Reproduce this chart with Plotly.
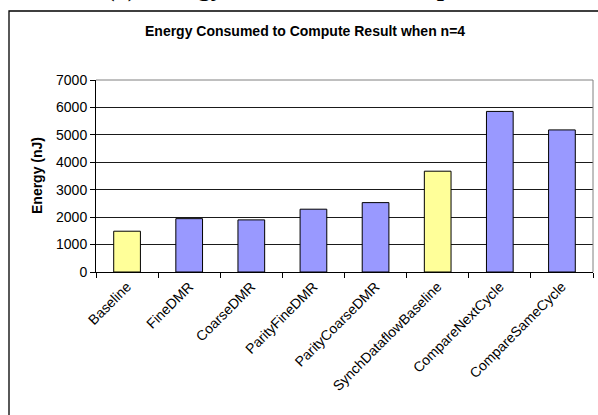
import plotly.graph_objects as go

categories = ["Baseline", "FineDMR", "CoarseDMR", "ParityFineDMR", "ParityCoarseDMR",
              "SynchDataflowBaseline", "CompareNextCycle", "CompareSameCycle"]
energy_nj = [1487, 1945, 1900, 2290, 2530, 3675, 5855, 5180]
bar_colors = ["#FFFF99", "#9999FF", "#9999FF", "#9999FF", "#9999FF",
              "#FFFF99", "#9999FF", "#9999FF"]
y_ticks = [0, 1000, 2000, 3000, 4000, 5000, 6000, 7000]

W, H = 598, 415
L, R, T, B = 96, 5, 80, 143
pw, ph = W - L - R, H - T - B

def px(x):
    return (x - L) / pw

def py(y):
    return (H - B - y) / ph

fig = go.Figure(go.Bar(
    x=categories, y=energy_nj,
    marker=dict(color=bar_colors, line=dict(color="#000000", width=1)),
))

fig.update_layout(
    width=W, height=H,
    margin=dict(l=L, r=R, t=T, b=B, pad=0, autoexpand=False),
    paper_bgcolor="white", plot_bgcolor="white",
    bargap=0.57, showlegend=False,
    font=dict(family="Liberation Sans, Arial", size=14, color="#000000"),
)
fig.update_xaxes(
    type="category", tickangle=-45, tickson="boundaries",
    ticks="outside", ticklen=5, tickcolor="#000000",
    showline=True, linecolor="#000000", linewidth=1,
    showgrid=False, tickfont=dict(size=14),
)
fig.update_yaxes(
    range=[0, 7000], tickvals=y_ticks, ticks="outside", ticklen=5,
    tickcolor="#000000", showline=True, linecolor="#000000", linewidth=1,
    showgrid=True, gridcolor="#1a1a1a", gridwidth=1, zeroline=False,
    tickfont=dict(size=14),
)

shapes = [
    # outer chart frame
    dict(type="rect", xref="paper", yref="paper",
         x0=px(9), x1=px(640), y0=py(440), y1=py(11),
         line=dict(color="#000000", width=1.3), layer="below"),
    # gray plot-area border (top and right)
    dict(type="line", xref="paper", yref="paper", x0=0, x1=1, y0=1, y1=1,
         line=dict(color="#808080", width=1), layer="above"),
    dict(type="line", xref="paper", yref="paper", x0=1, x1=1, y0=0, y1=1,
         line=dict(color="#808080", width=1), layer="above"),
]
fig.update_layout(shapes=shapes)

annotations = [
    dict(text="<b>Energy Consumed to Compute Result when n=4</b>",
         xref="paper", yref="paper", x=px(305), y=py(31),
         xanchor="center", yanchor="middle", showarrow=False,
         font=dict(size=14, family="Liberation Sans, Arial")),
    dict(text="<b>Energy (nJ)</b>", textangle=-90,
         xref="paper", yref="paper", x=px(37), y=py(176),
         xanchor="center", yanchor="middle", showarrow=False,
         font=dict(size=14, family="Liberation Sans, Arial")),
    dict(text="<b>(a) Energy Consumed to Compute Result when n=4</b>",
         xref="paper", yref="paper", x=px(104), y=py(-13),
         xanchor="left", yanchor="middle", showarrow=False,
         font=dict(size=26, family="Liberation Serif, Times New Roman")),
]
fig.update_layout(annotations=annotations)

fig.write_html("out.html")
